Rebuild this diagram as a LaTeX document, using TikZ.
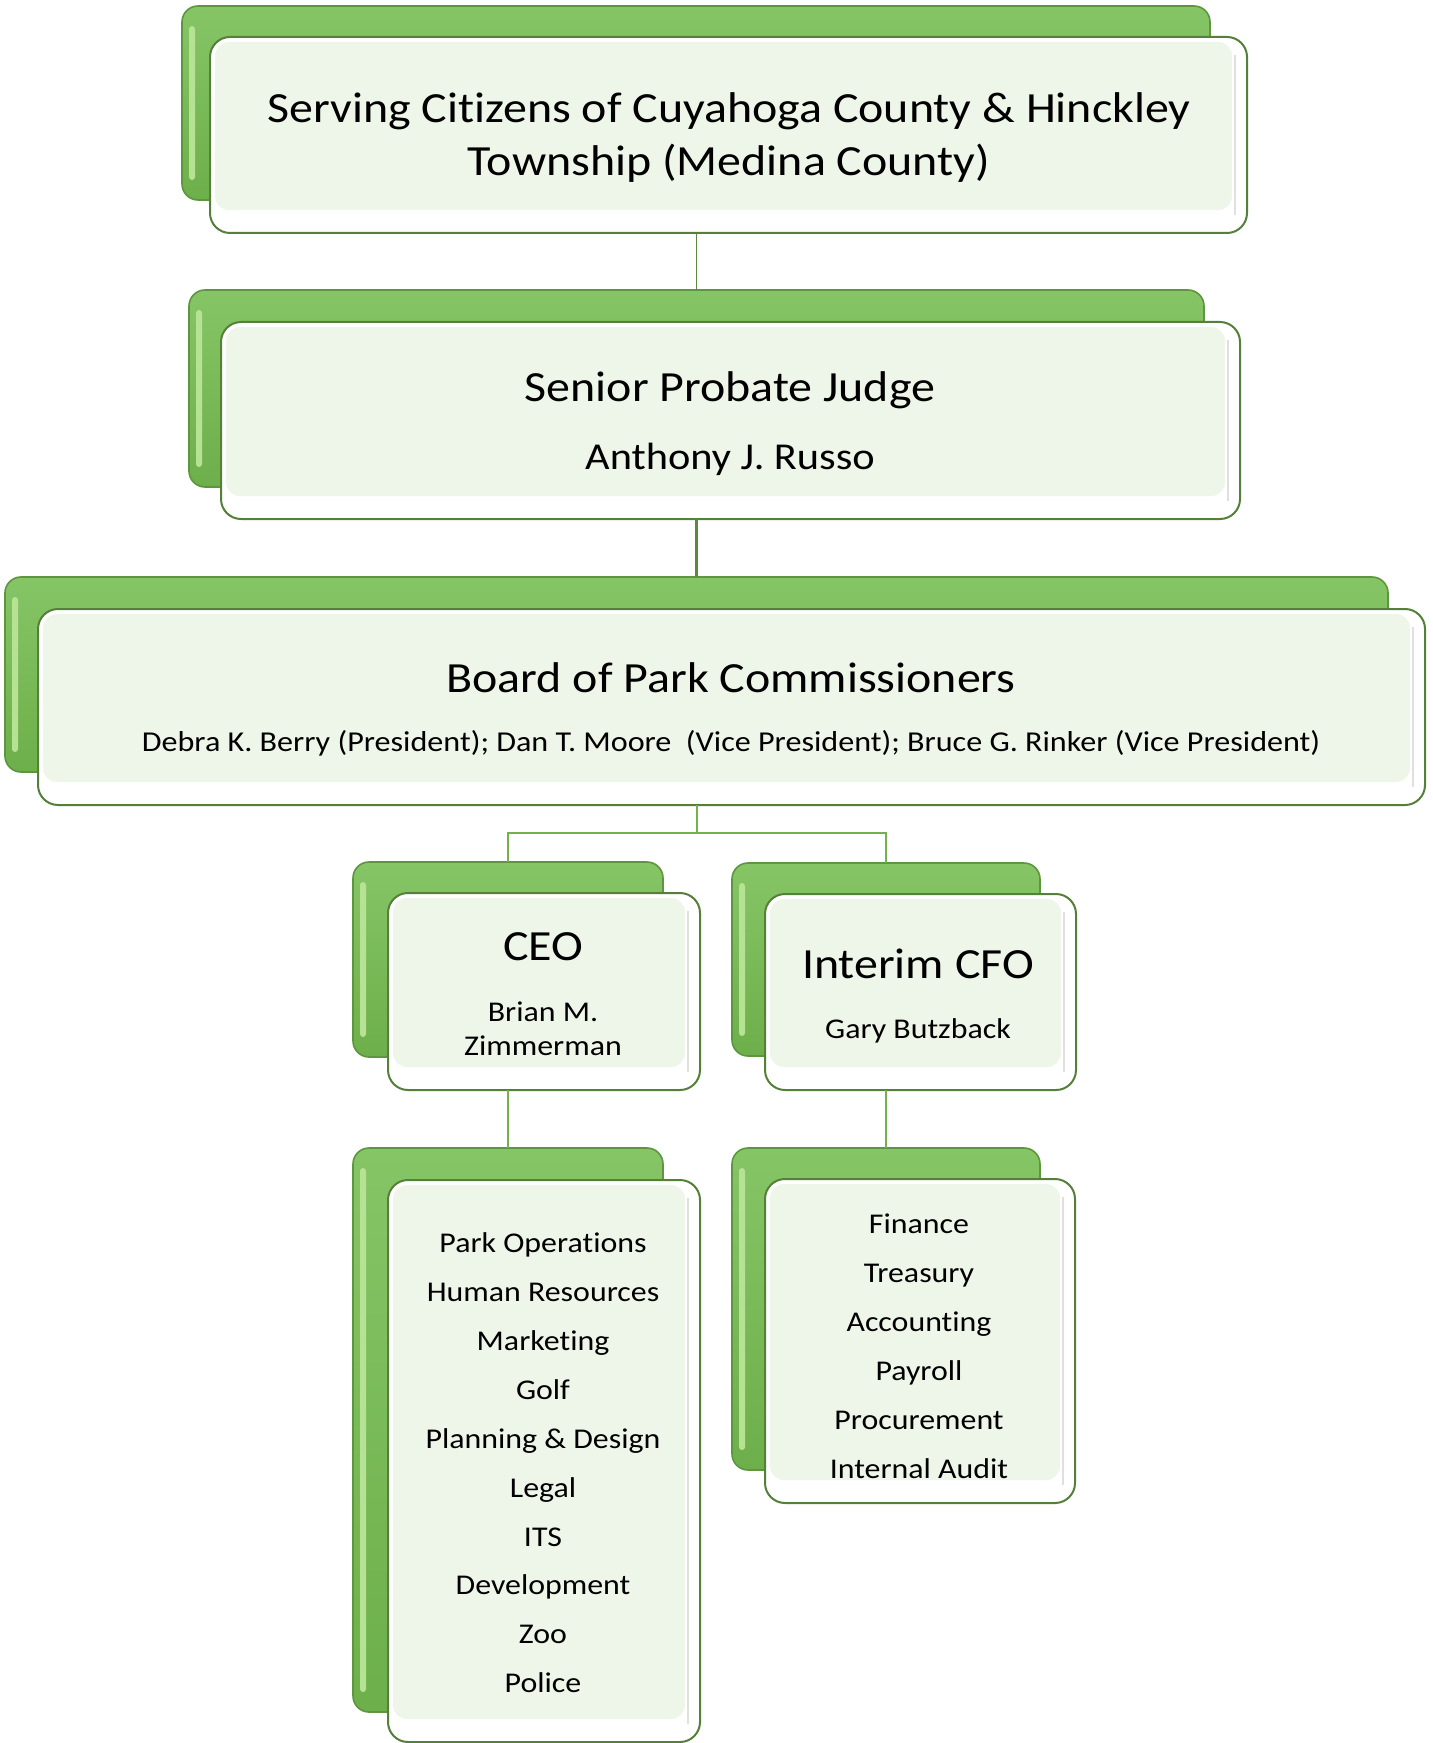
\documentclass[tikz,border=0pt]{standalone}
\usepackage{fontspec}
\setmainfont{Carlito}[FakeStretch=1.115, Ligatures={NoCommon,NoRare,NoDiscretionary}, Contextuals=NoAlternate]
\definecolor{backgreen}{HTML}{7DBE5B}
\definecolor{backtop}{HTML}{86C566}
\definecolor{backbot}{HTML}{6DAF4A}
\definecolor{backedge}{HTML}{5E9640}
\definecolor{backlight}{HTML}{B5E293}
\definecolor{frontedge}{HTML}{55803A}
\definecolor{frontfill}{HTML}{EEF6E9}
\definecolor{linkdark}{HTML}{5A8A3C}
\definecolor{linkgreen}{HTML}{74B04C}
\tikzset{
  x=0.5pt, y=-0.5pt,
  backbox/.style={rectangle, rounded corners=8pt, draw=backedge, line width=0.8pt,
    top color=backtop, bottom color=backbot, inner sep=0pt, outer sep=0pt},
  frontbox/.style={rectangle, rounded corners=10pt, draw=frontedge, line width=1pt,
    fill=white, inner sep=0pt, outer sep=0pt},
  innerfill/.style={rectangle, rounded corners=7pt, fill=frontfill, inner sep=0pt},
  hilite/.style={rectangle, rounded corners=1.5pt, fill=backlight, inner sep=0pt},
  sheen/.style={draw=black!12, line width=1pt},
  bigtxt/.style={font=\fontsize{21.5}{26}\selectfont, inner sep=0pt, text height=0.72em, text depth=0.22em, yshift=-5pt},
  midtxt/.style={font=\fontsize{19}{23}\selectfont, inner sep=0pt, text height=0.72em, text depth=0.22em, yshift=-3.5pt},
  smalltxt/.style={font=\fontsize{14.3}{17}\selectfont, inner sep=0pt, text height=0.72em, text depth=0.22em, yshift=-2.5pt},
  tinytxt/.style={font=\fontsize{14.4}{17}\selectfont, inner sep=0pt, text height=0.72em, text depth=0.22em, yshift=-2pt},
  linkthin/.style={draw=linkdark, line width=0.8pt},
  linkthick/.style={draw=linkdark, line width=1.3pt},
  linklight/.style={draw=linkgreen, line width=1pt},
}
% #1 name, #2 x1, #3 y1, #4 x2, #5 y2
\newcommand\mkback[5]{%
  \node[backbox, minimum width={(#4-#2)*0.5pt}, minimum height={(#5-#3)*0.5pt}] (#1) at ({(#2+#4)/2},{(#3+#5)/2}) {};
  \node[hilite, minimum width=3pt, minimum height={(#5-#3-40)*0.5pt}] (#1hl) at ({#2+10},{(#3+#5)/2}) {};
}
\newcommand\mkfront[5]{%
  \node[frontbox, minimum width={(#4-#2)*0.5pt}, minimum height={(#5-#3)*0.5pt}] (#1) at ({(#2+#4)/2},{(#3+#5)/2}) {};
  \node[innerfill, minimum width={(#4-#2-20)*0.5pt}, minimum height={(#5-#3-28)*0.5pt}] (#1in) at ({(#2+#4)/2-5},{(#3+#5)/2-9}) {};
  \draw[sheen] ({#4-12},{#3+18}) -- ({#4-12},{#5-18});
}
\begin{document}
\begin{tikzpicture}
\useasboundingbox (0,0) rectangle (1432,1743);
\fill[white] (0,0) rectangle (1432,1743);

% ---- level 1
\mkback{b1}{182}{6}{1210}{200}
\mkfront{f1}{210}{37}{1247}{233}
\node[bigtxt] (t1a) at (729,108) {Serving Citizens of Cuyahoga County \& Hinckley};
\node[bigtxt] (t1b) at (729,161) {Township (Medina County)};

% ---- level 2
\mkback{b2}{189}{290}{1204}{487}
\mkfront{f2}{221}{322}{1240}{519}
\node[bigtxt] (t2a) at (730,386) {Senior Probate Judge};
\node[midtxt] (t2b) at (730,457) {Anthony J. Russo};

% ---- level 3
\mkback{b3}{5}{577}{1388}{772}
\mkfront{f3}{38}{609}{1425}{805}
\node[bigtxt] (t3a) at (731,677) {Board of Park Commissioners};
\node[tinytxt] (t3b) at (731,742) {Debra K. Berry (President); Dan T. Moore\ \ (Vice President); Bruce G. Rinker (Vice President)};

% ---- CEO
\mkback{bceo}{353}{862}{663}{1057}
\mkfront{fceo}{388}{893}{700}{1090}
\node[bigtxt] (tceo) at (543,945) {CEO};
\node[smalltxt] (tceo1) at (543,1011) {Brian M.};
\node[smalltxt] (tceo2) at (543,1045) {Zimmerman};

% ---- CFO
\mkback{bcfo}{732}{863}{1040}{1056}
\mkfront{fcfo}{765}{894}{1076}{1090}
\node[bigtxt] (tcfo) at (918,963) {Interim CFO};
\node[smalltxt] (tcfo1) at (918,1028) {Gary Butzback};

% ---- CEO list
\mkback{bceol}{353}{1148}{663}{1712}
\mkfront{fceol}{388}{1180}{700}{1742}
\node[smalltxt] (l1) at (543,1242) {Park Operations};
\node[smalltxt] (l2) at (543,1291) {Human Resources};
\node[smalltxt] (l3) at (543,1340) {Marketing};
\node[smalltxt] (l4) at (543,1389) {Golf};
\node[smalltxt] (l5) at (543,1438) {Planning \& Design};
\node[smalltxt] (l6) at (543,1487) {Legal};
\node[smalltxt] (l7) at (543,1536) {ITS};
\node[smalltxt] (l8) at (543,1584) {Development};
\node[smalltxt] (l9) at (543,1633) {Zoo};
\node[smalltxt] (l10) at (543,1682) {Police};

% ---- CFO list
\mkback{bcfol}{732}{1148}{1040}{1470}
\mkfront{fcfol}{765}{1179}{1075}{1503}
\node[smalltxt] (r1) at (919,1223) {Finance};
\node[smalltxt] (r2) at (919,1272) {Treasury};
\node[smalltxt] (r3) at (919,1321) {Accounting};
\node[smalltxt] (r4) at (919,1370) {Payroll};
\node[smalltxt] (r5) at (919,1419) {Procurement};
\node[smalltxt] (r6) at (919,1468) {Internal Audit};

% ---- connectors
\coordinate (j) at (697,833);
\draw[linkthin] (b2.north |- f1.south) -- (b2.north);
\draw[linkthick] (b3.north |- f2.south) -- (b3.north);
\draw[linklight] (j |- f3.south) -- (j);
\draw[linklight] (bceo.north) |- (j) -| (bcfo.north);
\draw[linklight] (bceol.north |- fceo.south) -- (bceol.north);
\draw[linklight] (bcfol.north |- fcfo.south) -- (bcfol.north);
\end{tikzpicture}
\end{document}
